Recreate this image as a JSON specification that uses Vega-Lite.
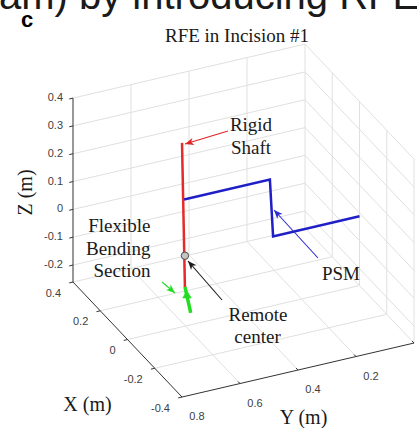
{
"$schema": "https://vega.github.io/schema/vega-lite/v6.json",
"width": 417, "height": 428, "padding": 0, "autosize": {"type": "none"},
"background": "white",
"config": {"view": {"stroke": null}},
"datasets": {
"grid": [
{"X":0.4,"Y":0.8,"Z":-0.2,"X2":0.4,"Y2":0,"Z2":-0.2},
{"X":0.4,"Y":0.8,"Z":-0.1,"X2":0.4,"Y2":0,"Z2":-0.1},
{"X":0.4,"Y":0.8,"Z":0,"X2":0.4,"Y2":0,"Z2":0},
{"X":0.4,"Y":0.8,"Z":0.1,"X2":0.4,"Y2":0,"Z2":0.1},
{"X":0.4,"Y":0.8,"Z":0.2,"X2":0.4,"Y2":0,"Z2":0.2},
{"X":0.4,"Y":0.8,"Z":0.3,"X2":0.4,"Y2":0,"Z2":0.3},
{"X":0.4,"Y":0.8,"Z":0.4,"X2":0.4,"Y2":0,"Z2":0.4},
{"X":0.4,"Y":0.6,"Z":-0.261,"X2":0.4,"Y2":0.6,"Z2":0.4},
{"X":0.4,"Y":0.4,"Z":-0.261,"X2":0.4,"Y2":0.4,"Z2":0.4},
{"X":0.4,"Y":0.2,"Z":-0.261,"X2":0.4,"Y2":0.2,"Z2":0.4},
{"X":0.4,"Y":0,"Z":-0.261,"X2":0.4,"Y2":0,"Z2":0.4},
{"X":0.4,"Y":0,"Z":-0.2,"X2":-0.4,"Y2":0,"Z2":-0.2},
{"X":0.4,"Y":0,"Z":-0.1,"X2":-0.4,"Y2":0,"Z2":-0.1},
{"X":0.4,"Y":0,"Z":0,"X2":-0.4,"Y2":0,"Z2":0},
{"X":0.4,"Y":0,"Z":0.1,"X2":-0.4,"Y2":0,"Z2":0.1},
{"X":0.4,"Y":0,"Z":0.2,"X2":-0.4,"Y2":0,"Z2":0.2},
{"X":0.4,"Y":0,"Z":0.3,"X2":-0.4,"Y2":0,"Z2":0.3},
{"X":0.4,"Y":0,"Z":0.4,"X2":-0.4,"Y2":0,"Z2":0.4},
{"X":0.2,"Y":0,"Z":-0.261,"X2":0.2,"Y2":0,"Z2":0.4},
{"X":0,"Y":0,"Z":-0.261,"X2":0,"Y2":0,"Z2":0.4},
{"X":-0.2,"Y":0,"Z":-0.261,"X2":-0.2,"Y2":0,"Z2":0.4},
{"X":-0.4,"Y":0,"Z":-0.261,"X2":-0.4,"Y2":0,"Z2":0.4},
{"X":0.4,"Y":0.8,"Z":-0.261,"X2":0.4,"Y2":0,"Z2":-0.261},
{"X":0.2,"Y":0.8,"Z":-0.261,"X2":0.2,"Y2":0,"Z2":-0.261},
{"X":0,"Y":0.8,"Z":-0.261,"X2":0,"Y2":0,"Z2":-0.261},
{"X":-0.2,"Y":0.8,"Z":-0.261,"X2":-0.2,"Y2":0,"Z2":-0.261},
{"X":0.4,"Y":0.6,"Z":-0.261,"X2":-0.4,"Y2":0.6,"Z2":-0.261},
{"X":0.4,"Y":0.4,"Z":-0.261,"X2":-0.4,"Y2":0.4,"Z2":-0.261},
{"X":0.4,"Y":0.2,"Z":-0.261,"X2":-0.4,"Y2":0.2,"Z2":-0.261},
{"X":0.4,"Y":0,"Z":-0.261,"X2":-0.4,"Y2":0,"Z2":-0.261}
],
"axes": [
{"X":0.4,"Y":0.8,"Z":-0.261,"X2":0.4,"Y2":0.8,"Z2":0.4},
{"X":0.4,"Y":0.8,"Z":-0.261,"X2":-0.4,"Y2":0.8,"Z2":-0.261},
{"X":-0.4,"Y":0.8,"Z":-0.261,"X2":-0.4,"Y2":0,"Z2":-0.261},
{"X":0.4,"Y":0.8,"Z":-0.2,"X2":0.4,"Y2":0.813,"Z2":-0.2},
{"X":0.4,"Y":0.8,"Z":-0.1,"X2":0.4,"Y2":0.813,"Z2":-0.1},
{"X":0.4,"Y":0.8,"Z":0,"X2":0.4,"Y2":0.813,"Z2":0},
{"X":0.4,"Y":0.8,"Z":0.1,"X2":0.4,"Y2":0.813,"Z2":0.1},
{"X":0.4,"Y":0.8,"Z":0.2,"X2":0.4,"Y2":0.813,"Z2":0.2},
{"X":0.4,"Y":0.8,"Z":0.3,"X2":0.4,"Y2":0.813,"Z2":0.3},
{"X":0.4,"Y":0.8,"Z":0.4,"X2":0.4,"Y2":0.813,"Z2":0.4},
{"X":0.4,"Y":0.8,"Z":-0.261,"X2":0.4,"Y2":0.813,"Z2":-0.261},
{"X":0.2,"Y":0.8,"Z":-0.261,"X2":0.2,"Y2":0.813,"Z2":-0.261},
{"X":0,"Y":0.8,"Z":-0.261,"X2":0,"Y2":0.813,"Z2":-0.261},
{"X":-0.2,"Y":0.8,"Z":-0.261,"X2":-0.2,"Y2":0.813,"Z2":-0.261},
{"X":-0.4,"Y":0.8,"Z":-0.261,"X2":-0.4,"Y2":0.813,"Z2":-0.261},
{"X":-0.4,"Y":0.8,"Z":-0.261,"X2":-0.386,"Y2":0.8,"Z2":-0.261},
{"X":-0.4,"Y":0.6,"Z":-0.261,"X2":-0.386,"Y2":0.6,"Z2":-0.261},
{"X":-0.4,"Y":0.4,"Z":-0.261,"X2":-0.386,"Y2":0.4,"Z2":-0.261},
{"X":-0.4,"Y":0.2,"Z":-0.261,"X2":-0.386,"Y2":0.2,"Z2":-0.261},
{"X":-0.4,"Y":0,"Z":-0.261,"X2":-0.386,"Y2":0,"Z2":-0.261}
],
"zlab": [
{"lab":"0.4","X":0.4,"Y":0.8,"Z":0.4},
{"lab":"0.3","X":0.4,"Y":0.8,"Z":0.3},
{"lab":"0.2","X":0.4,"Y":0.8,"Z":0.2},
{"lab":"0.1","X":0.4,"Y":0.8,"Z":0.1},
{"lab":"0","X":0.4,"Y":0.8,"Z":0},
{"lab":"-0.1","X":0.4,"Y":0.8,"Z":-0.1},
{"lab":"-0.2","X":0.4,"Y":0.8,"Z":-0.2}
],
"xlab": [
{"lab":"0.4","X":0.4,"Y":0.8,"Z":-0.261},
{"lab":"0.2","X":0.2,"Y":0.8,"Z":-0.261},
{"lab":"0","X":0,"Y":0.8,"Z":-0.261},
{"lab":"-0.2","X":-0.2,"Y":0.8,"Z":-0.261},
{"lab":"-0.4","X":-0.4,"Y":0.8,"Z":-0.261}
],
"ylab": [
{"lab":"0.8","X":-0.4,"Y":0.8,"Z":-0.261},
{"lab":"0.6","X":-0.4,"Y":0.6,"Z":-0.261},
{"lab":"0.4","X":-0.4,"Y":0.4,"Z":-0.261},
{"lab":"0.2","X":-0.4,"Y":0.2,"Z":-0.261}
],
"shaft": [
{"o":1,"X":0,"Y":0.612,"Z":0.4},
{"o":2,"X":0,"Y":0.602,"Z":-0.12}
],
"psm": [
{"o":1,"X":0,"Y":0.605,"Z":0.195},
{"o":2,"X":0,"Y":0.309,"Z":0.195},
{"o":3,"X":0,"Y":0.298,"Z":-0.012},
{"o":4,"X":0,"Y":0,"Z":-0.012}
],
"bend": [
{"o":1,"X":0,"Y":0.602,"Z":-0.12},
{"o":2,"X":0,"Y":0.582,"Z":-0.218}
],
"bendhead": [{"X":0,"Y":0.595,"Z":-0.148}],
"rc": [{"X":0,"Y":0.602,"Z":-0.008}],
"arrows": [
{"k":"shaft","px":228,"py":131,"px2":185,"py2":144},
{"k":"rc","px":222,"py":300,"px2":188,"py2":261},
{"k":"psm","px":318,"py":258,"px2":274,"py2":210},
{"k":"bend","px":162,"py":282,"px2":175,"py2":293}
],
"notes": [
{"t":"Rigid","px":251,"py":131},
{"t":"Shaft","px":251,"py":153.5},
{"t":"PSM","px":341,"py":280},
{"t":"Remote","px":258,"py":321},
{"t":"center","px":257.5,"py":343},
{"t":"RFE in Incision #1","px":237,"py":41.5}
],
"notesR": [
{"t":"Flexible","px":150.5,"py":232},
{"t":"Bending","px":150.5,"py":254.5},
{"t":"Section","px":150.5,"py":277}
],
"axtitles": [
{"t":"X (m)","px":87.5,"py":411},
{"t":"Y (m)","px":303.5,"py":424}
],
"ztitle": [{"t":"Z (m)","px":32,"py":192.5}],
"header": [{"t":"am) by introducing RFE","px":-1,"py":9}],
"panel": [{"t":"c","px":21,"py":27}]
},
"encoding": {
"x": {"field":"px","type":"quantitative","scale":{"domain":[0,417],"zero":false,"nice":false},"axis":null},
"y": {"field":"py","type":"quantitative","scale":{"domain":[0,428],"zero":false,"nice":false,"reverse":true},"axis":null}
},
"layer": [
{"data":{"name":"grid"},
 "transform":[
  {"calculate":"359.5 - 136.25*datum.X - 290*datum.Y","as":"px"},
  {"calculate":"212.9 - 143.75*datum.X + 67.5*datum.Y - 278.3*datum.Z","as":"py"},
  {"calculate":"359.5 - 136.25*datum.X2 - 290*datum.Y2","as":"px2"},
  {"calculate":"212.9 - 143.75*datum.X2 + 67.5*datum.Y2 - 278.3*datum.Z2","as":"py2"}],
 "mark":{"type":"rule","color":"#e0e0e0","strokeWidth":1},
 "encoding":{"x2":{"field":"px2"},"y2":{"field":"py2"}}},
{"data":{"name":"axes"},
 "transform":[
  {"calculate":"359.5 - 136.25*datum.X - 290*datum.Y","as":"px"},
  {"calculate":"212.9 - 143.75*datum.X + 67.5*datum.Y - 278.3*datum.Z","as":"py"},
  {"calculate":"359.5 - 136.25*datum.X2 - 290*datum.Y2","as":"px2"},
  {"calculate":"212.9 - 143.75*datum.X2 + 67.5*datum.Y2 - 278.3*datum.Z2","as":"py2"}],
 "mark":{"type":"rule","color":"#333333","strokeWidth":1},
 "encoding":{"x2":{"field":"px2"},"y2":{"field":"py2"}}},
{"data":{"name":"zlab"},
 "transform":[
  {"calculate":"359.5 - 136.25*datum.X - 290*datum.Y","as":"px"},
  {"calculate":"212.9 - 143.75*datum.X + 67.5*datum.Y - 278.3*datum.Z","as":"py"}],
 "mark":{"type":"text","font":"Liberation Sans","fontSize":11,"color":"#404040","align":"right","baseline":"middle","dx":-10},
 "encoding":{"text":{"field":"lab"}}},
{"data":{"name":"xlab"},
 "transform":[
  {"calculate":"359.5 - 136.25*datum.X - 290*datum.Y","as":"px"},
  {"calculate":"212.9 - 143.75*datum.X + 67.5*datum.Y - 278.3*datum.Z","as":"py"}],
 "mark":{"type":"text","font":"Liberation Sans","fontSize":11,"color":"#404040","align":"right","baseline":"middle","dx":-12,"dy":11.5},
 "encoding":{"text":{"field":"lab"}}},
{"data":{"name":"ylab"},
 "transform":[
  {"calculate":"359.5 - 136.25*datum.X - 290*datum.Y","as":"px"},
  {"calculate":"212.9 - 143.75*datum.X + 67.5*datum.Y - 278.3*datum.Z","as":"py"}],
 "mark":{"type":"text","font":"Liberation Sans","fontSize":11,"color":"#404040","align":"center","baseline":"middle","dx":15,"dy":20},
 "encoding":{"text":{"field":"lab"}}},
{"data":{"name":"shaft"},
 "transform":[
  {"calculate":"359.5 - 136.25*datum.X - 290*datum.Y","as":"px"},
  {"calculate":"212.9 - 143.75*datum.X + 67.5*datum.Y - 278.3*datum.Z","as":"py"}],
 "mark":{"type":"line","color":"#e52a2a","strokeWidth":2.5},
 "encoding":{"order":{"field":"o"}}},
{"data":{"name":"psm"},
 "transform":[
  {"calculate":"359.5 - 136.25*datum.X - 290*datum.Y","as":"px"},
  {"calculate":"212.9 - 143.75*datum.X + 67.5*datum.Y - 278.3*datum.Z","as":"py"}],
 "mark":{"type":"line","color":"#1f1fc8","strokeWidth":2.5},
 "encoding":{"order":{"field":"o"}}},
{"data":{"name":"bend"},
 "transform":[
  {"calculate":"359.5 - 136.25*datum.X - 290*datum.Y","as":"px"},
  {"calculate":"212.9 - 143.75*datum.X + 67.5*datum.Y - 278.3*datum.Z","as":"py"}],
 "mark":{"type":"line","color":"#22dd22","strokeWidth":3.5},
 "encoding":{"order":{"field":"o"}}},
{"data":{"name":"bendhead"},
 "transform":[
  {"calculate":"359.5 - 136.25*datum.X - 290*datum.Y","as":"px"},
  {"calculate":"212.9 - 143.75*datum.X + 67.5*datum.Y - 278.3*datum.Z","as":"py"}],
 "mark":{"type":"point","shape":"triangle-up","filled":true,"color":"#22dd22","size":90,"opacity":1}},
{"data":{"name":"rc"},
 "transform":[
  {"calculate":"359.5 - 136.25*datum.X - 290*datum.Y","as":"px"},
  {"calculate":"212.9 - 143.75*datum.X + 67.5*datum.Y - 278.3*datum.Z","as":"py"}],
 "mark":{"type":"point","shape":"circle","filled":true,"fill":"#c4c4c4","stroke":"#4d4d4d","strokeWidth":1,"size":55,"opacity":1}},
{"data":{"name":"arrows"},
 "mark":{"type":"rule","strokeWidth":1.1},
 "encoding":{"x2":{"field":"px2"},"y2":{"field":"py2"},
  "color":{"field":"k","type":"nominal","scale":{"domain":["shaft","rc","psm","bend"],"range":["#e02424","#1a1a1a","#2a2ad0","#22dd22"]},"legend":null}}},
{"data":{"name":"arrows"},
 "transform":[{"calculate":"atan2(datum.px2 - datum.px, datum.py - datum.py2) * 180 / PI","as":"ang"}],
 "mark":{"type":"point","shape":"M0,0L-0.9,2.2L0,1.6L0.9,2.2Z","filled":true,"size":64,"opacity":1},
 "encoding":{"x":{"field":"px2","type":"quantitative"},"y":{"field":"py2","type":"quantitative"},
  "angle":{"field":"ang","type":"quantitative","scale":null},
  "color":{"field":"k","type":"nominal","scale":{"domain":["shaft","rc","psm","bend"],"range":["#e02424","#1a1a1a","#2a2ad0","#22dd22"]},"legend":null}}},
{"data":{"name":"notes"},
 "mark":{"type":"text","font":"Liberation Serif","fontSize":19,"color":"#1a1a1a","align":"center","baseline":"alphabetic"},
 "encoding":{"text":{"field":"t"}}},
{"data":{"name":"notesR"},
 "mark":{"type":"text","font":"Liberation Serif","fontSize":19,"color":"#1a1a1a","align":"right","baseline":"alphabetic"},
 "encoding":{"text":{"field":"t"}}},
{"data":{"name":"axtitles"},
 "mark":{"type":"text","font":"Liberation Serif","fontSize":20,"color":"#1a1a1a","align":"center","baseline":"alphabetic"},
 "encoding":{"text":{"field":"t"}}},
{"data":{"name":"ztitle"},
 "mark":{"type":"text","font":"Liberation Serif","fontSize":20,"color":"#1a1a1a","align":"center","baseline":"alphabetic","angle":270},
 "encoding":{"text":{"field":"t"}}},
{"data":{"name":"header"},
 "mark":{"type":"text","font":"Liberation Sans","fontSize":40,"color":"#1a1a1a","align":"left","baseline":"alphabetic"},
 "encoding":{"text":{"field":"t"}}},
{"data":{"name":"panel"},
 "mark":{"type":"text","font":"Liberation Sans","fontSize":22,"fontWeight":"bold","color":"#000000","align":"left","baseline":"alphabetic"},
 "encoding":{"text":{"field":"t"}}}
]
}
